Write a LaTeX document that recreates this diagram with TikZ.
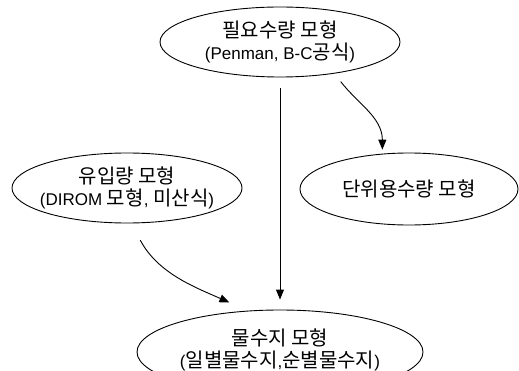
\documentclass[tikz,border=0pt]{standalone}
\usepackage{fontspec}
\setmainfont{Liberation Sans}
\newfontfamily\krfont{Noto Sans CJK KR}
\usetikzlibrary{shapes.geometric,arrows.meta}
\newcommand{\kt}[1]{{\krfont\fontsize{20}{22}\selectfont #1}}
\begin{document}
\begin{tikzpicture}[x=1pt,y=1pt,
  ell/.style={draw, ellipse, line width=0.9pt, inner sep=0pt},
  lbl/.style={align=center, inner sep=0pt, font=\fontsize{17}{22}\selectfont},
  arr/.style={line width=0.9pt, -{Triangle[length=10pt,width=8pt]}}]
\useasboundingbox (0,0) rectangle (519,370);
\fill[white] (0,0) rectangle (519,370);
\clip (0,0) rectangle (519,370);
\node[ell, minimum width=240pt, minimum height=70pt] (need) at (280,328) {};
\node[lbl] (needtxt) at (need.center) {\kt{필요수량 모형}\\(Penman, B-C\kt{공식})};
\node[ell, minimum width=230pt, minimum height=70pt] (inflow) at (127,182) {};
\node[lbl] (inflowtxt) at (inflow.center) {\kt{유입량 모형}\\(DIROM \kt{모형}, \kt{미산식})};
\node[ell, minimum width=218pt, minimum height=72pt] (unit) at (409,181) {};
\node[lbl] (unittxt) at (unit.center) {\kt{단위용수량 모형}};
\node[ell, minimum width=286pt, minimum height=84pt] (bal) at (280,18) {};
\node[lbl] (baltxt) at ([yshift=2pt]bal.center) {\kt{물수지 모형}\\(\kt{일별물수지},\kt{순별물수지})};
\draw[arr, shorten <=10pt, shorten >=4pt] (need.-30) to[out=-53, in=90] (unit.127.6);
\draw[arr, shorten <=11pt, shorten >=10pt] (need.south) -- (bal.north);
\draw[arr, shorten <=19pt, shorten >=20pt] (inflow.-83.5) to[out=-62, in=156] (bal.128.3);
\end{tikzpicture}
\end{document}
